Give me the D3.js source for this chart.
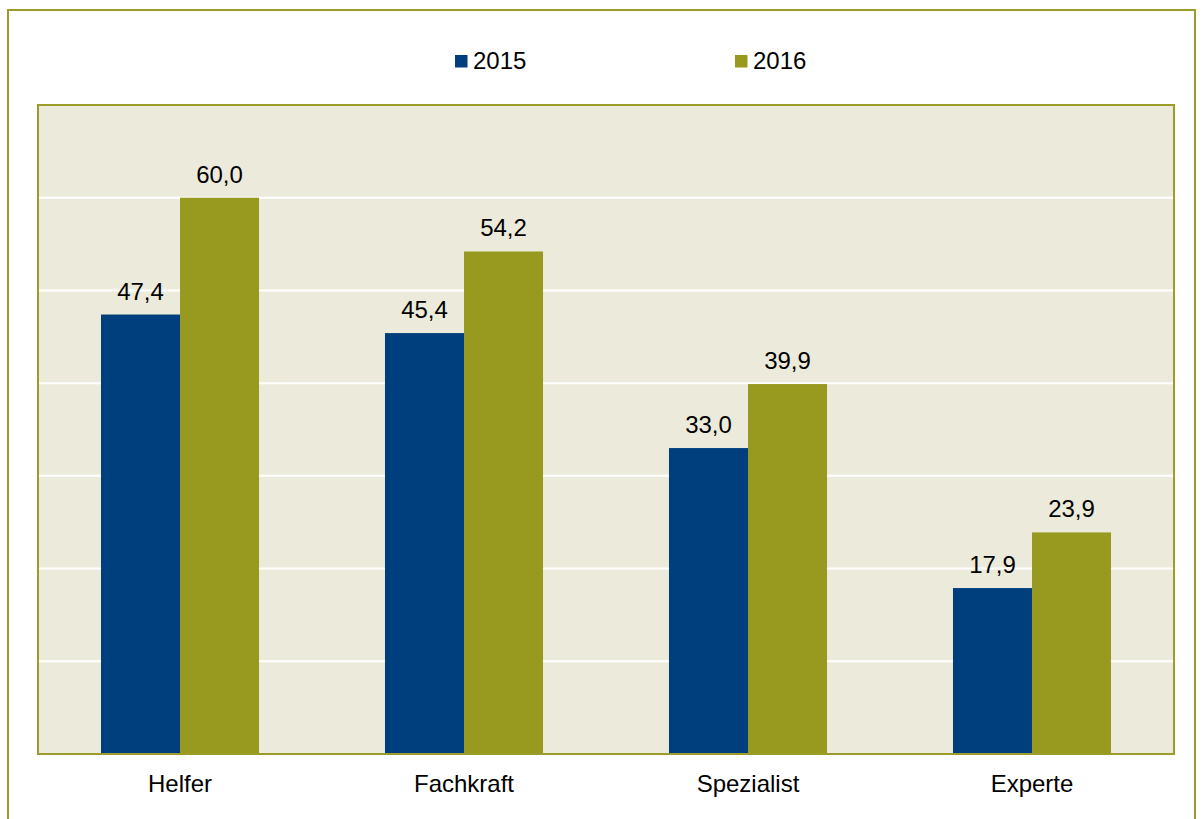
<!DOCTYPE html>
<html>
<head>
<meta charset="utf-8">
<script src="https://cdn.jsdelivr.net/npm/d3@7"></script>
<style>
  body { margin: 0; background: #fff; }
  svg { display: block; font-family: "Liberation Sans", Arial, sans-serif; }
</style>
</head>
<body>
<div id="viz"></div>
<script>
const categories = ["Helfer", "Fachkraft", "Spezialist", "Experte"]
const seriesNames = ["2015", "2016"]
const values2015 = [47.4, 45.4, 33.0, 17.9]
const values2016 = [60.0, 54.2, 39.9, 23.9]
const gridTicks = [10, 20, 30, 40, 50, 60]

function drawChart () {
    const width = 1203
    const height = 819
    const colors = {"2015": "#003f7d", "2016": "#989a1f"}

    const plot = {left: 38, right: 1174, top: 105, bottom: 754}

    const data = categories.map((c, i) => ({
        category: c,
        values: [{key: "2015", value: values2015[i]}, {key: "2016", value: values2016[i]}]
    }))

    const svg = d3.select("#viz")
                  .append("svg")
                  .attr("width", width)
                  .attr("height", height)

    // outer frame (bottom edge runs off the picture)
    svg.append("rect")
       .attr("x", 8).attr("y", 10)
       .attr("width", 1187).attr("height", 840)
       .attr("fill", "#fff")
       .attr("stroke", "#9c9c2a")
       .attr("stroke-width", 2)

    const xScale = d3.scaleBand()
                     .domain(categories)
                     .range([plot.left, plot.right])
                     .padding(0)

    const xInner = d3.scaleBand()
                     .domain(seriesNames)
                     .range([0, xScale.bandwidth()])
                     .paddingInner(0)
                     .paddingOuter(0.797)

    const yScale = d3.scaleLinear()
                     .domain([0, 70])
                     .range([plot.bottom, plot.top])

    // plot background
    svg.append("rect")
       .attr("x", plot.left).attr("y", plot.top)
       .attr("width", plot.right - plot.left)
       .attr("height", plot.bottom - plot.top)
       .attr("fill", "#ecebdb")

    // white gridlines
    svg.append("g")
       .selectAll("line")
       .data(gridTicks)
       .join("line")
       .attr("x1", plot.left).attr("x2", plot.right)
       .attr("y1", d => yScale(d)).attr("y2", d => yScale(d))
       .attr("stroke", "#fff")
       .attr("stroke-width", 2)

    const groups = svg.append("g")
                      .selectAll("g")
                      .data(data)
                      .join("g")
                      .attr("transform", d => `translate(${xScale(d.category)},0)`)

    groups.selectAll("rect")
          .data(d => d.values)
          .join("rect")
          .attr("x", d => xInner(d.key))
          .attr("y", d => yScale(d.value))
          .attr("width", xInner.bandwidth())
          .attr("height", d => yScale(0) - yScale(d.value))
          .attr("fill", d => colors[d.key])

    groups.selectAll("text")
          .data(d => d.values)
          .join("text")
          .attr("x", d => xInner(d.key) + xInner.bandwidth() / 2)
          .attr("y", d => yScale(d.value) - 15)
          .attr("text-anchor", "middle")
          .attr("font-size", 24)
          .attr("fill", "#000")
          .text(d => d3.format(".1f")(d.value).replace(".", ","))

    // plot border
    svg.append("rect")
       .attr("x", plot.left).attr("y", plot.top)
       .attr("width", plot.right - plot.left)
       .attr("height", plot.bottom - plot.top)
       .attr("fill", "none")
       .attr("stroke", "#9c9c2a")
       .attr("stroke-width", 2)

    // category labels
    const xAxis = d3.axisBottom(xScale).tickSize(0).tickPadding(0)
    const axisG = svg.append("g")
                     .attr("transform", `translate(0,${plot.bottom})`)
                     .call(xAxis)
    axisG.select(".domain").remove()
    axisG.selectAll("text")
         .attr("dy", null)
         .attr("y", 38)
         .attr("font-size", 24)
         .attr("font-family", "Liberation Sans, Arial, sans-serif")
         .attr("fill", "#000")

    // legend
    const legendX = {"2015": 455, "2016": 735}
    const legend = svg.append("g")
                      .selectAll("g")
                      .data(seriesNames)
                      .join("g")
                      .attr("transform", d => `translate(${legendX[d]},55)`)
    legend.append("rect")
          .attr("width", 12.5).attr("height", 12.5)
          .attr("fill", d => colors[d])
    legend.append("text")
          .attr("x", 18).attr("y", 14)
          .attr("font-size", 24)
          .attr("fill", "#000")
          .text(d => d)
}

drawChart()
</script>
</body>
</html>
